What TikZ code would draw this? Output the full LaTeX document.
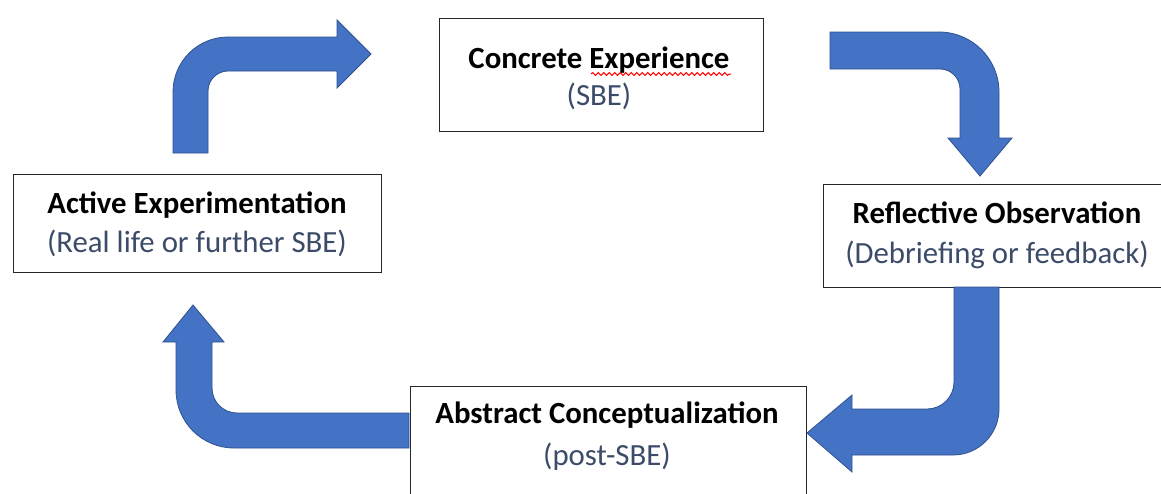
\documentclass[tikz,border=0pt]{standalone}
\usepackage{fontspec}
\setmainfont{Carlito}
\usetikzlibrary{decorations.pathmorphing}
\definecolor{arrowblue}{HTML}{4472C4}
\definecolor{arrowedge}{HTML}{2F528F}
\definecolor{subgray}{HTML}{3B4B68}
\definecolor{boxedge}{HTML}{262626}
\tikzset{
  stagebox/.style={draw=boxedge, line width=1.2pt, fill=white, inner sep=0pt, anchor=north west},
  titletext/.style={font=\fontsize{30.8}{36}\selectfont\bfseries, text=black, inner sep=0pt, anchor=base},
  subtext/.style={font=\fontsize{30.8}{36}\selectfont, text=subgray, inner sep=0pt, anchor=base},
  blockarrow/.style={fill=arrowblue, draw=arrowedge, line width=0.8pt, line join=miter},
  spellmark/.style={draw=red, line width=1pt, decorate, decoration={snake, amplitude=1.5pt, segment length=5.5pt}}
}
\begin{document}
\begin{tikzpicture}[x=1pt, y=-1pt]
\useasboundingbox (0,0) rectangle (1161,493);
\clip (0,0) rectangle (1161,493);
\fill[white] (0,0) rectangle (1161,493);

% boxes
\node[stagebox, minimum width=324pt, minimum height=113pt] (ce) at (439,18) {};
\node[stagebox, minimum width=368pt, minimum height=98pt] (ae) at (13,174) {};
\node[stagebox, minimum width=347pt, minimum height=103pt] (ro) at (823,184) {};
\node[stagebox, minimum width=396pt, minimum height=120pt] (ac) at (410,386) {};

% texts
\node[titletext] (cet) at (599,68) {Concrete Experience};
\node[subtext] (ces) at (599,105) {(SBE)};
\node[titletext] (aet) at (197,213) {Active Experimentation};
\node[subtext] (aes) at (197,252) {(Real life or further SBE)};
\node[titletext] (rot) at (997,223) {Reflective Observation};
\node[subtext] (ros) at (997,263) {(Debriefing or feedback)};
\node[titletext] (act) at (607,423) {Abstract Conceptualization};
\node[subtext] (acs) at (607,465) {(post-SBE)};

% spelling squiggle
\coordinate (sq1) at (591,74);
\coordinate (sq2) at (731,74);
\draw[spellmark] (sq1) -- (sq2);

% arrow: Active -> Concrete (up then right)
\draw[blockarrow] (173,153) -- (173,92)
  .. controls (173,61.6) and (197.6,37) .. (228,37)
  -- (337,37) -- (337,20) -- (371,54) -- (337,88) -- (337,71)
  -- (228,71) .. controls (217,71) and (208,80) .. (208,91)
  -- (208,153) -- cycle;

% arrow: Concrete -> Reflective (right then down)
\draw[blockarrow] (830,32) -- (939,32)
  .. controls (972.1,32) and (999,58.9) .. (999,92)
  -- (999,138) -- (1012,138) -- (980,176) -- (948,138) -- (960,138)
  -- (960,89) .. controls (960,78) and (951,69) .. (940,69)
  -- (830,69) -- cycle;

% arrow: Reflective -> Abstract (down then left)
\draw[blockarrow] (954,287) -- (999,287) -- (999,409)
  .. controls (999,434.4) and (978.4,455) .. (953,455)
  -- (852,455) -- (852,472) -- (807,433) -- (852,395) -- (852,409)
  -- (927,409) .. controls (941.9,409) and (954,396.9) .. (954,382)
  -- cycle;

% arrow: Abstract -> Active (left then up)
\draw[blockarrow] (409,413) -- (237,413)
  .. controls (223.2,413) and (212,401.8) .. (212,388)
  -- (212,342) -- (224,342) -- (193,305) -- (163,342) -- (176,342)
  -- (176,390) .. controls (176,422) and (202,448) .. (234,448)
  -- (409,448) -- cycle;
\end{tikzpicture}
\end{document}
